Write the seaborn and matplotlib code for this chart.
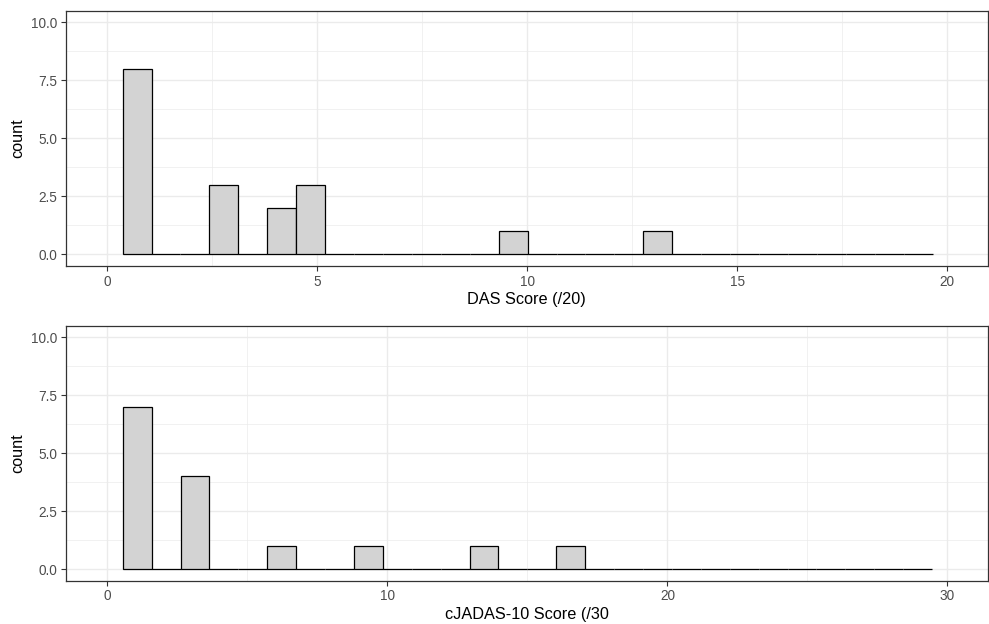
import numpy as np
import pandas as pd
import matplotlib
matplotlib.use("Agg")
import matplotlib.pyplot as plt
from matplotlib.ticker import MultipleLocator
import seaborn as sns

# DAS score histogram (value at bin centre, count)
das_scores = [0.71, 2.78, 4.15, 4.84, 9.66, 13.11]
das_counts = [8, 3, 2, 3, 1, 1]
das_range = (0.365, 19.65)

# cJADAS-10 histogram
jadas_scores = [1.07, 3.13, 6.23, 9.32, 13.45, 16.55]
jadas_counts = [7, 4, 1, 1, 1, 1]
jadas_range = (0.55, 29.45)

n_bins = 28

sns.set_theme(style="white")
plt.rcParams['font.family'] = ['Liberation Sans', 'DejaVu Sans']

fig = plt.figure(figsize=(9.89, 6.24), dpi=100)
ax1 = fig.add_axes([0.0664, 0.574, 0.9326, 0.409])
ax2 = fig.add_axes([0.0664, 0.0694, 0.9326, 0.4086])


def hist_panel(ax, scores, counts, rng, xlim, major, minor, xlabel):
    df = pd.DataFrame({"score": scores, "n": counts})
    sns.histplot(data=df, x="score", weights="n", bins=n_bins, binrange=rng,
                 ax=ax, color="#D3D3D3", edgecolor="black", linewidth=0.9,
                 alpha=1)
    ax.set_xlim(*xlim)
    ax.set_ylim(-0.5, 10.5)
    ax.xaxis.set_major_locator(MultipleLocator(major))
    ax.xaxis.set_minor_locator(MultipleLocator(minor))
    ax.yaxis.set_major_locator(MultipleLocator(2.5))
    ax.yaxis.set_minor_locator(MultipleLocator(1.25))
    ax.yaxis.set_major_formatter(plt.FormatStrFormatter('%.1f'))
    ax.grid(True, which="major", color="#EBEBEB", linewidth=1.0)
    ax.grid(True, which="minor", color="#EBEBEB", linewidth=0.5)
    ax.set_axisbelow(True)
    for s in ax.spines.values():
        s.set_color("#333333")
        s.set_linewidth(0.9)
    ax.tick_params(which="major", direction="out", length=3.3, width=0.8,
                   color="#333333", labelcolor="#4D4D4D", labelsize=9.8,
                   pad=2.5, bottom=True, left=True)
    ax.tick_params(axis="x", pad=3)
    ax.tick_params(which="minor", length=0)
    ax.set_xlabel(xlabel, fontsize=11.7, color="black", labelpad=2.5)
    ax.set_ylabel("count", fontsize=11.7, color="black", labelpad=4.5)


hist_panel(ax1, das_scores, das_counts, das_range, (-0.99, 20.97), 5, 2.5,
           "DAS Score (/20)")
hist_panel(ax2, jadas_scores, jadas_counts, jadas_range, (-1.49, 31.45), 10, 5,
           "cJADAS-10 Score (/30")

fig.savefig("out.png", dpi=100, facecolor="white")
